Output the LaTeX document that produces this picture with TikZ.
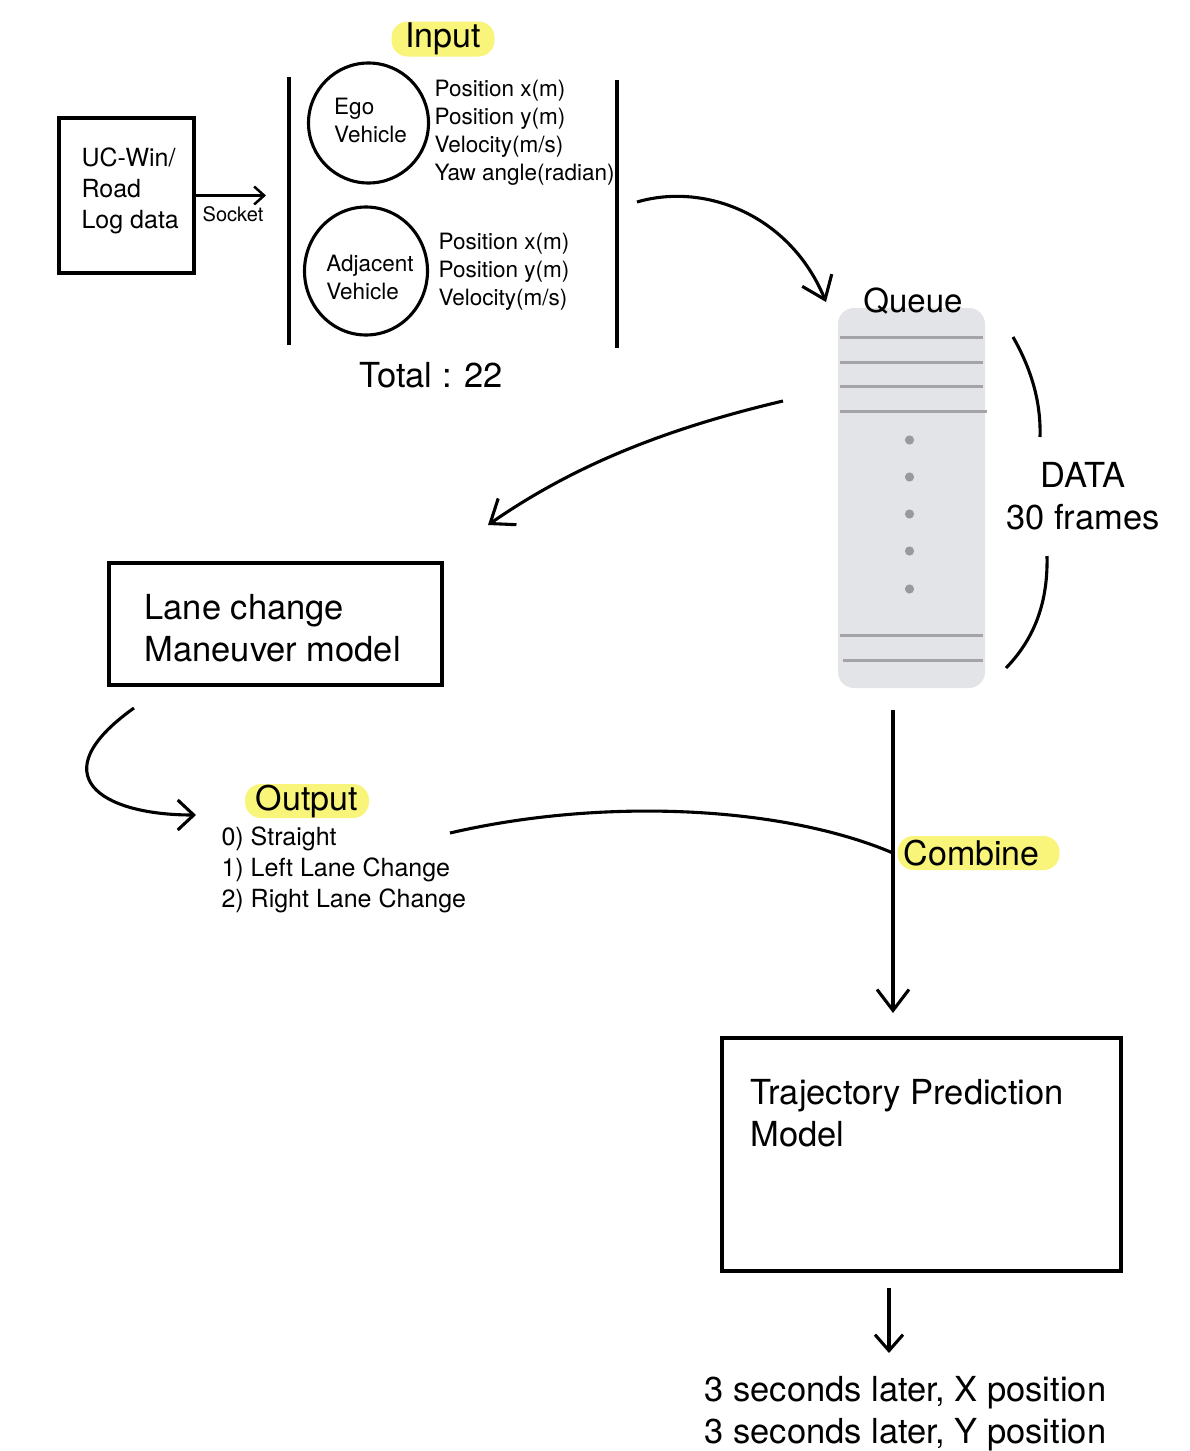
\documentclass[tikz,border=0pt]{standalone}
\usepackage{fontspec}
\setmainfont{TeX Gyre Heros}
\usetikzlibrary{arrows.meta,shapes.geometric}
\definecolor{hl}{HTML}{F8F57A}
\definecolor{qfill}{HTML}{E3E4E7}
\definecolor{qline}{HTML}{A3A3A8}
\definecolor{qdot}{HTML}{9A9A9E}
\begin{document}
\begin{tikzpicture}[x=1pt,y=-1pt,line width=3.1pt,
  barb/.style={-{Straight Barb[length=21pt,width=32pt,line width=3.1pt]}},
  smallbarb/.style={-{Straight Barb[length=10pt,width=18pt,line width=2.5pt]}},
  big/.style={inner sep=0pt,align=left,font=\fontsize{34.5}{42}\selectfont},
  mid/.style={inner sep=0pt,align=left,font=\fontsize{25}{31}\selectfont},
  small/.style={inner sep=0pt,align=left,font=\fontsize{22.5}{28}\selectfont},
  hlbox/.style={fill=hl,rounded corners=16pt,inner sep=0pt,font=\fontsize{34}{42}\selectfont},
  boxed/.style={draw,line width=3.2pt,inner sep=0pt},
  qrule/.style={draw=qline,line width=3pt},
  qdotstyle/.style={fill=qdot,draw=none},
  brace/.style={line width=3.1pt}
]
\useasboundingbox (0,0) rectangle (1190,1451);

% UC-Win/Road box
\node[boxed,minimum width=135pt,minimum height=155pt] (ucbox) at (126.5,195.5) {};
\node[mid,anchor=west] (uctext) at (80,191) {UC-Win/\\Road\\Log data};
\coordinate (sockend) at (266,195.5);
\draw[smallbarb] (ucbox.east) -- (sockend);
\node[inner sep=0pt,font=\fontsize{20}{24}\selectfont] (socket) at (233,214) {Socket};

% input bars
\draw[line width=3.4pt] (289,77) -- (289,345);
\draw[line width=3.4pt] (617,80) -- (617,348);
\node[hlbox,minimum width=103pt,minimum height=35pt] (input) at (443,39) {Input};

% ego vehicle
\node[draw,circle,minimum size=120pt,inner sep=0pt] (ego) at (368.5,123) {};
\node[small,anchor=center] (egotext) at (370.5,120) {Ego\\Vehicle};
\node[small,anchor=west] (egoattr) at (433,133) {Position x(m)\\Position y(m)\\Velocity(m/s)\\Yaw angle(radian)};

% adjacent vehicle
\node[draw,ellipse,minimum width=123pt,minimum height=128pt,inner sep=0pt] (adj) at (366,271) {};
\node[small,anchor=center] (adjtext) at (370,277) {Adjacent\\Vehicle};
\node[small,anchor=west] (adjattr) at (437,272) {Position x(m)\\Position y(m)\\Velocity(m/s)};

\node[big] (total) at (431,375) {Total : 22};

% queue
\node[fill=qfill,rounded corners=16pt,minimum width=147pt,minimum height=380pt,inner sep=0pt] (queue) at (911.5,498) {};
\node[inner sep=0pt,font=\fontsize{33}{40}\selectfont] (queuelabel) at (913,301) {Queue};
\draw[qrule] (840,337) -- (983,337);
\draw[qrule] (840,362) -- (983,362);
\draw[qrule] (840,386) -- (983,386);
\draw[qrule] (840,411) -- (987,411);
\draw[qrule] (840,635) -- (983,635);
\draw[qrule] (843,660) -- (983,660);
\foreach \yy in {440,477,514,551,589} \fill[qdotstyle] (909.5,\yy) circle (4.6pt);

% brace arcs and DATA label
\draw[brace] (1013,337) .. controls (1033,372) and (1041,405) .. (1040,437);
\draw[brace] (1047,556) .. controls (1048,600) and (1036,637) .. (1006,668);
\node[big,align=center] (data) at (1083,496) {DATA\\30 frames};

% input -> queue
\coordinate (inout) at (637,202);
\coordinate (qin) at (826,302);
\draw[barb] (inout) .. controls (705,182) and (790,215) .. (qin);

% queue -> lane change model
\coordinate (qleft) at (783,401);
\coordinate (lanein) at (488,525);
\draw[barb] (qleft) .. controls (660,430) and (570,468) .. (lanein);

% lane change model
\node[boxed,minimum width=333pt,minimum height=122pt] (lane) at (275.5,624) {};
\node[big,anchor=west] (lanetext) at (143,628) {Lane change\\Maneuver model};

% lane -> output
\coordinate (laneout) at (134,708);
\coordinate (outin) at (196,815);
\draw[-{Straight Barb[length=16pt,width=30pt,line width=3.1pt]}] (laneout) .. controls (40,775) and (100,815) .. (outin);

% output
\node[hlbox,minimum width=124pt,minimum height=34pt] (output) at (307,801) {Output};
\node[mid,anchor=west] (outlist) at (220,870) {0) Straight\\1) Left Lane Change\\2) Right Lane Change};

% queue -> trajectory
\coordinate (qout) at (893,710);
\coordinate (trajin) at (893,1013);
\coordinate (join) at (893,853);
\draw[barb] (qout) -- (trajin);

% output -> combine
\coordinate (outright) at (450,833);
\draw (outright) .. controls (600,798) and (780,805) .. (join);
\node[hlbox,anchor=west,minimum width=162pt,minimum height=34pt,align=left,text width=150pt,inner xsep=5pt] (combine) at (896,853) {Combine};

% trajectory prediction model
\node[boxed,minimum width=399pt,minimum height=233pt] (traj) at (921.5,1154.5) {};
\node[big,anchor=west] (trajtext) at (749,1113) {Trajectory Prediction\\Model};

% result
\coordinate (trajout) at (889,1288);
\coordinate (resin) at (889,1353);
\draw[-{Straight Barb[length=16pt,width=28pt,line width=3.1pt]}] (trajout) -- (resin);
\node[big,anchor=west] (result) at (703,1414) {3 seconds later, X position\\3 seconds later, Y position};
\end{tikzpicture}
\end{document}
